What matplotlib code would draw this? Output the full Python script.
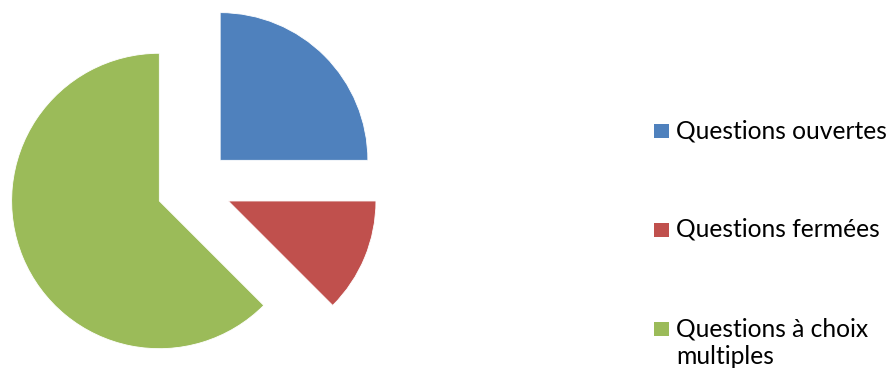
import matplotlib
matplotlib.use("Agg")
import matplotlib.pyplot as plt
from matplotlib.patches import Rectangle

labels = ["Questions ouvertes", "Questions fermées", "Questions à choix\nmultiples"]
values = [4, 2, 10]
colors = ["#4F81BD", "#C0504D", "#9BBB59"]

W, H = 888, 370
fig = plt.figure(figsize=(W / 100, H / 100), dpi=100)
ax = fig.add_axes([0, 0, 1, 1])

cx, cy, r, d = 193.8, H - 186.7, 147.7, 37.3
ax.pie(values, colors=colors, startangle=90, counterclock=False,
       center=(cx, cy), radius=r, explode=[d] * len(values),
       wedgeprops=dict(linewidth=0.6, edgecolor="white"))
ax.set_xlim(0, W)
ax.set_ylim(0, H)
ax.set_aspect("equal")
ax.axis("off")

font = "Lato"
fs = 17.7
sq = 14.5
line_gap = 28
baselines = [138, 237, 336]
for lab, col, b in zip(labels, colors, baselines):
    ax.add_patch(Rectangle((654, H - b), sq, sq, facecolor=col, edgecolor="none"))
    for i, line in enumerate(lab.split("\n")):
        ax.text(676, H - b - i * line_gap, line, fontsize=fs, family=font,
                color="#000000", ha="left", va="baseline")

fig.savefig("out.png", dpi=100)
